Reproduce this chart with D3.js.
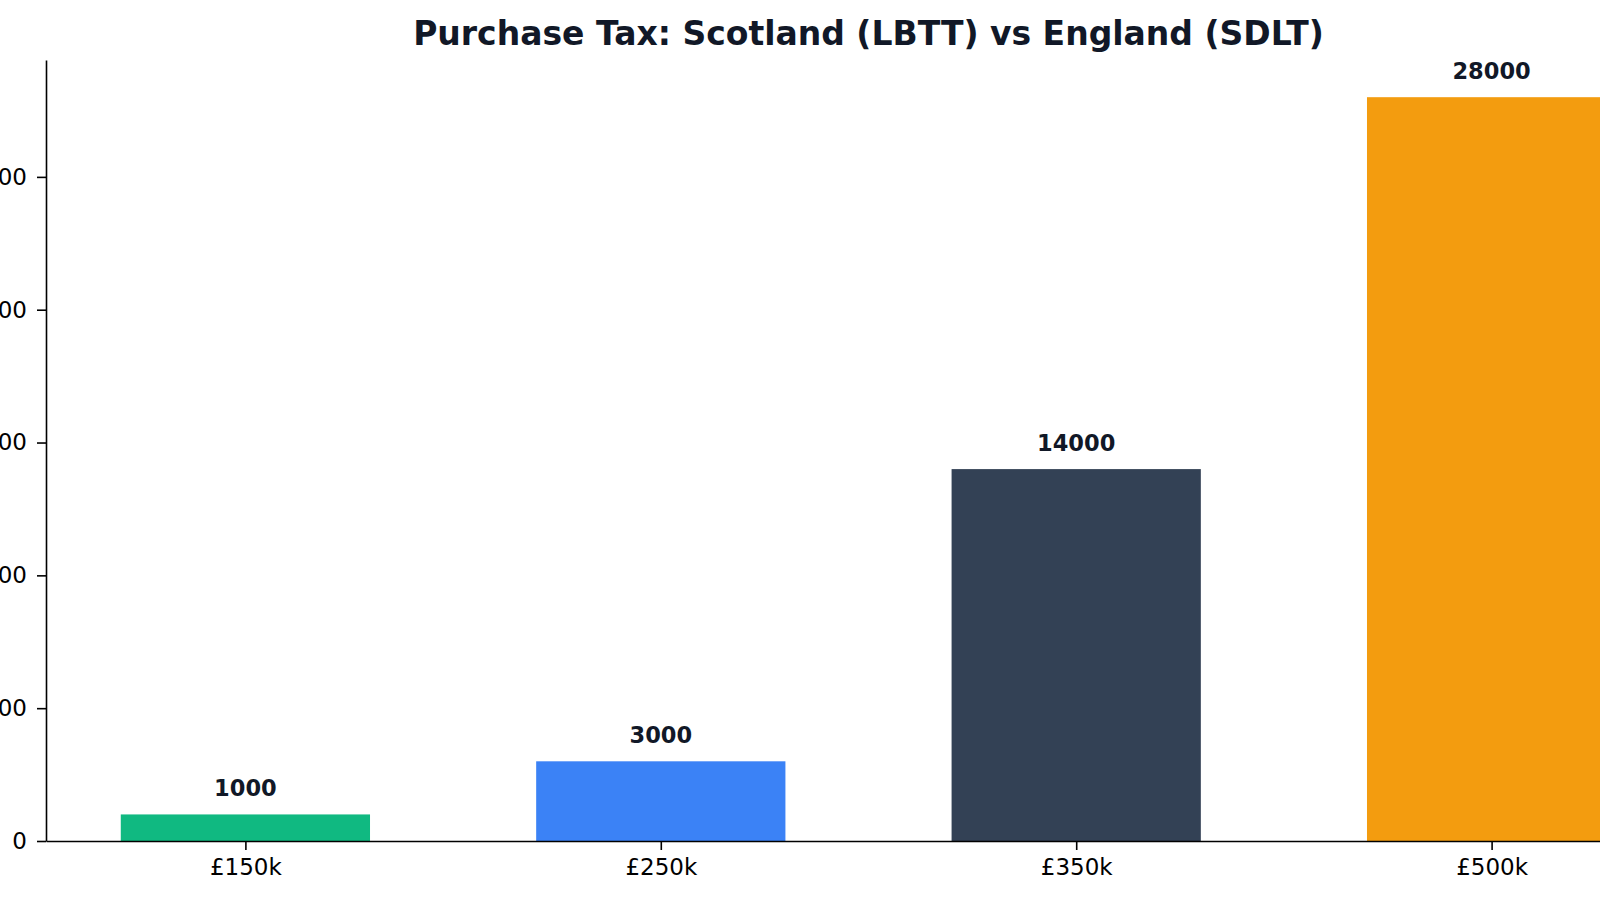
<!DOCTYPE html>
<html>
<head>
<meta charset="utf-8">
<script src="https://cdn.jsdelivr.net/npm/d3@7"></script>
<style>
  body { margin: 0; background: #fff; }
  svg { display: block; font-family: "DejaVu Sans", sans-serif; }
</style>
</head>
<body>
<div id="chart"></div>
<script>
var categories = ["£150k", "£250k", "£350k", "£500k"]
var taxValues = [1000, 3000, 14000, 28000]
var barColors = ["#10b981", "#3b82f6", "#334155", "#f39c0f"]
var yTicks = [0, 5000, 10000, 15000, 20000, 25000]
var titleText = "Purchase Tax: Scotland (LBTT) vs England (SDLT)"

var outerWidth = 1600,
    outerHeight = 900
var margin = { top: 60, left: 46, bottom: 59 }
var plotRight = 1691   // axes run past the right edge of the picture
var barWidth = 0.6

var svg = d3.select("#chart")
    .append("svg")
    .attr("width", outerWidth)
    .attr("height", outerHeight)

var yMax = d3.max(taxValues) * 1.05
var yScale = d3.scaleLinear()
    .domain([0, yMax])
    .range([outerHeight - margin.bottom, margin.top])

// matplotlib style index axis with 5% padding
var xScale = d3.scaleLinear()
    .domain([-barWidth / 2 - 0.18, categories.length - 1 + barWidth / 2 + 0.18])
    .range([margin.left, plotRight])

var data = categories.map(function(c, i) {
    return { cat: c, value: taxValues[i], color: barColors[i], idx: i }
})

svg.selectAll("rect.bar")
    .data(data)
    .enter()
    .append("rect")
    .attr("class", "bar")
    .attr("x", d => xScale(d.idx - barWidth / 2))
    .attr("width", d => xScale(d.idx + barWidth / 2) - xScale(d.idx - barWidth / 2))
    .attr("y", d => yScale(d.value))
    .attr("height", d => yScale(0) - yScale(d.value))
    .attr("fill", d => d.color)

svg.selectAll("text.val")
    .data(data)
    .enter()
    .append("text")
    .attr("class", "val")
    .attr("x", d => xScale(d.idx))
    .attr("y", d => yScale(d.value) - 18)
    .attr("text-anchor", "middle")
    .attr("font-size", "22.5px")
    .attr("font-weight", "bold")
    .attr("fill", "#111827")
    .text(d => d.value)

// x axis
var xAxis = svg.append("g")
    .attr("transform", "translate(0," + yScale(0) + ")")
    .call(d3.axisBottom(xScale)
        .tickValues(d3.range(categories.length))
        .tickFormat(i => categories[i])
        .tickSizeInner(9)
        .tickSizeOuter(0)
        .tickPadding(9))
xAxis.selectAll("text").attr("font-size", "23px").attr("fill", "#000").attr("font-family", "DejaVu Sans")
xAxis.selectAll("line, path").attr("stroke", "#000").attr("stroke-width", 1.6)

// y axis
var yAxis = svg.append("g")
    .attr("transform", "translate(" + margin.left + ",0)")
    .call(d3.axisLeft(yScale)
        .tickValues(yTicks)
        .tickFormat(d3.format("d"))
        .tickSizeInner(9)
        .tickSizeOuter(0)
        .tickPadding(10))
yAxis.selectAll("text").attr("font-size", "23px").attr("fill", "#000").attr("font-family", "DejaVu Sans")
yAxis.selectAll("line, path").attr("stroke", "#000").attr("stroke-width", 1.6)

svg.append("text")
    .attr("x", (margin.left + plotRight) / 2)
    .attr("y", 45)
    .attr("text-anchor", "middle")
    .attr("font-size", "33px")
    .attr("font-weight", "bold")
    .attr("fill", "#111827")
    .text(titleText)
</script>
</body>
</html>
